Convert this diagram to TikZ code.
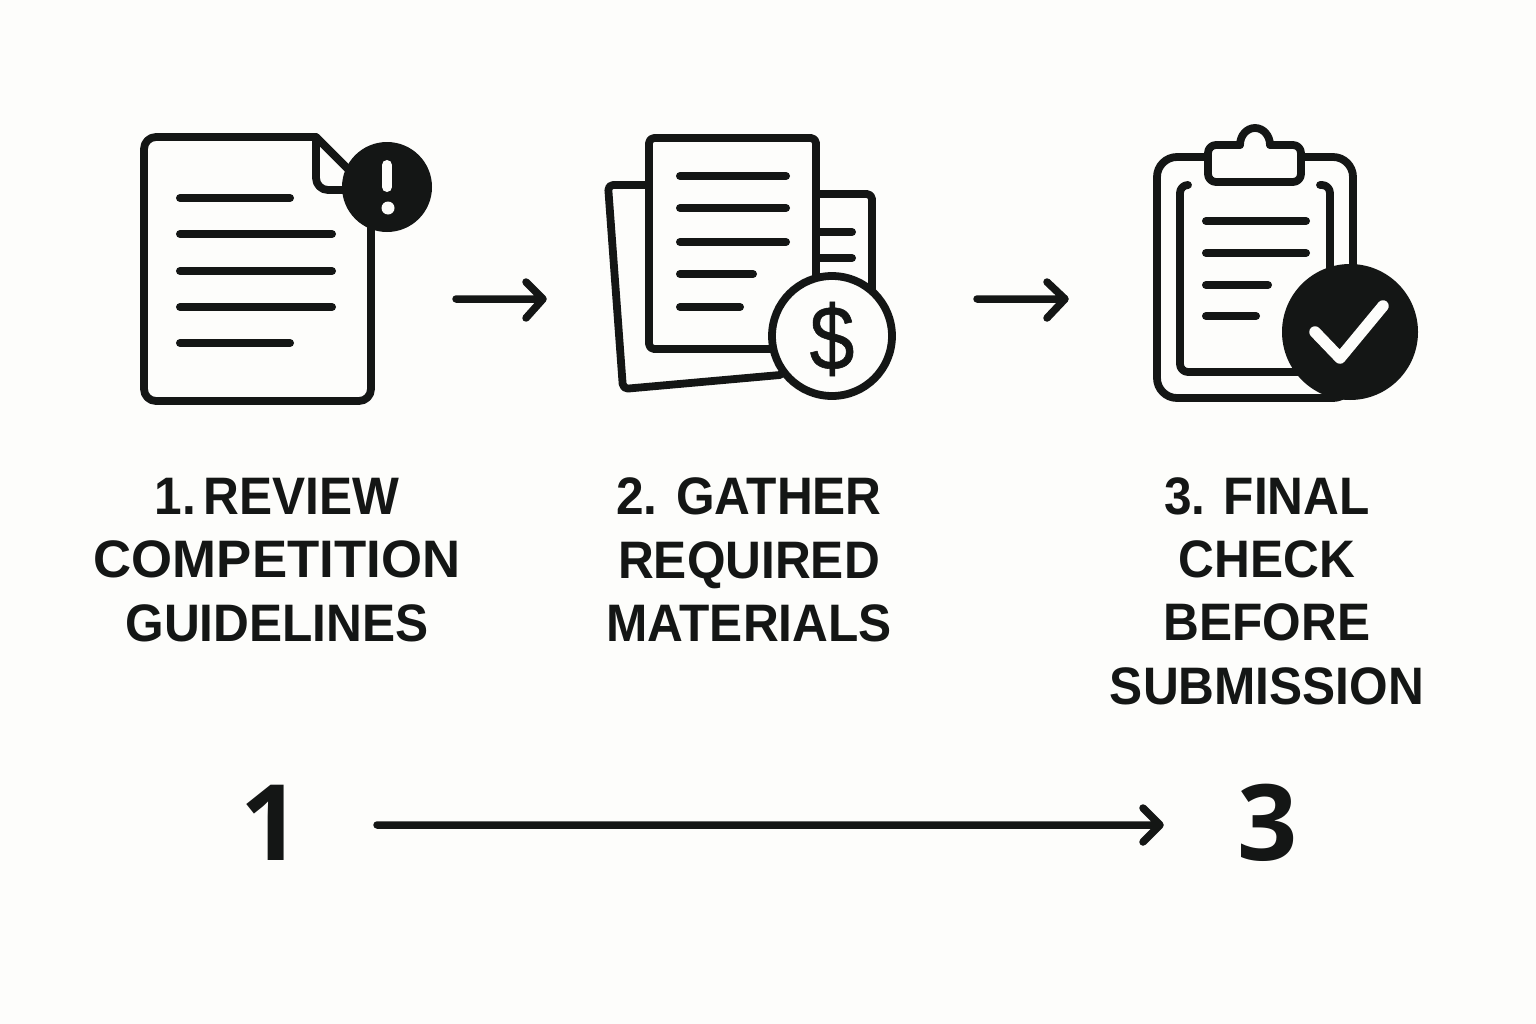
\documentclass[tikz,border=0pt]{standalone}
\usepackage{fontspec}
\setmainfont{Liberation Sans}
\newfontfamily\labelfont{Liberation Sans}[FakeStretch=0.94]
\newfontfamily\numfont{Open Sans}
\newfontfamily\dollarfont{Liberation Sans}[FakeStretch=0.88,FakeBold=0.6]
\definecolor{inkblack}{HTML}{141615}
\definecolor{paperwhite}{HTML}{FDFDFB}
\def\badgeone{(387,187) circle (45)}
\def\badgetwo{(832,336) circle (60)}
\def\badgethree{(1350,332) circle (68)}
\tikzset{
  icon/.style={draw=inkblack,line width=0.078cm,line join=round,line cap=round},
  stepline/.style={icon,line width=0.08cm},
  flowarrow/.style={draw=inkblack,line width=0.075cm,line cap=round,line join=round},
  steplabel/.style={align=center,text=inkblack,inner sep=0pt,font=\fontsize{15}{18}\selectfont\labelfont\bfseries},
  bignum/.style={text=inkblack,inner sep=0pt,font=\fontsize{30}{36}\selectfont\numfont\bfseries}
}
\begin{document}
\begin{tikzpicture}[x=0.01cm,y=-0.01cm]
  \fill[paperwhite] (0,0) rectangle (1536,1024);
  \useasboundingbox (0,0) rectangle (1536,1024);
  % first icon
  \draw[icon,rounded corners=0.12cm] (316,137) -- (144,137) -- (144,401) -- (371,401) -- (371,210);
  \draw[icon] (316,137) -- (355,176);
  \draw[icon,rounded corners=0.12cm] (316,137) -- (316,190) -- (350,190);
  \foreach \y/\xend in {198/290,234/332,271/332,307/332,343/290}
    \draw[stepline] (180,\y) -- (\xend,\y);
  \fill[inkblack] \badgeone;
  \draw[paperwhite,line width=0.1cm,line cap=round] (387,165) -- (387,187);
  \fill[paperwhite] (388,208) circle (6.5);
  % second icon
  \draw[icon,rounded corners=0.05cm] (649,185) -- (608,185) -- (623,389) -- (780,375);
  \draw[icon,rounded corners=0.05cm] (816,194) -- (872,194) -- (872,290);
  \draw[stepline] (816,232) -- (852,232);
  \draw[stepline] (816,258) -- (852,258);
  \draw[icon,rounded corners=0.05cm] (649,138) rectangle (816,349);
  \foreach \y/\xend in {176/786,208/786,242/786,274/753,307/740}
    \draw[stepline] (680,\y) -- (\xend,\y);
  \draw[icon,fill=paperwhite] \badgetwo;
  \node[inner sep=0pt,text=inkblack,font=\fontsize{26}{30}\selectfont\dollarfont] (dollar) at (832,339) {\$};
  % third icon
  \draw[icon,rounded corners=0.2cm] (1208,157) -- (1157,157) -- (1157,398) -- (1353,398) -- (1353,157) -- (1301,157);
  \draw[icon,rounded corners=0.08cm] (1240,145) -- (1208,145) -- (1208,182) -- (1301,182) -- (1301,145) -- (1270,145);
  \draw[icon] (1240,145) arc[start angle=180,end angle=360,x radius=15,y radius=17];
  \draw[icon,rounded corners=0.08cm] (1188,185) -- (1180,185) -- (1180,372) -- (1300,372);
  \draw[icon,rounded corners=0.08cm] (1320,185) -- (1330,185) -- (1330,290);
  \foreach \y/\xend in {221/1306,253/1306,285/1268,316/1256}
    \draw[stepline] (1206,\y) -- (\xend,\y);
  \fill[inkblack] \badgethree;
  \draw[paperwhite,line width=0.115cm,line cap=round,line join=round] (1315,332) -- (1340,358) -- (1383,306);
  % labels
  \node[steplabel] (stepone) at (277,560) {1.\kern-0.12em\ REVIEW\\{\addfontfeature{FakeStretch=1}COMPETITION}\\GUIDELINES};
  \node[steplabel] (steptwo) at (749,560) {2. GATHER\\REQUIRED\\MATERIALS};
  \node[steplabel] (stepthree) at (1267,591) {3. FINAL\\CHECK\\BEFORE\\SUBMISSION};
  \node[bignum] (numone) at (271,823) {1};
  \node[bignum] (numthree) at (1268,823) {3};
  % arrows
  \coordinate (a1) at (456,299);
  \coordinate (b1) at (543,299);
  \draw[flowarrow] (a1) -- (b1) (526,282) -- (b1) -- (526,318);
  \coordinate (a2) at (977,299);
  \coordinate (b2) at (1065,299);
  \draw[flowarrow] (a2) -- (b2) (1047,282) -- (b2) -- (1047,318);
  \coordinate (a3) at (377,825);
  \coordinate (b3) at (1160,825);
  \draw[flowarrow] (a3) -- (b3) (1143,808) -- (b3) -- (1143,842);
\end{tikzpicture}
\end{document}
